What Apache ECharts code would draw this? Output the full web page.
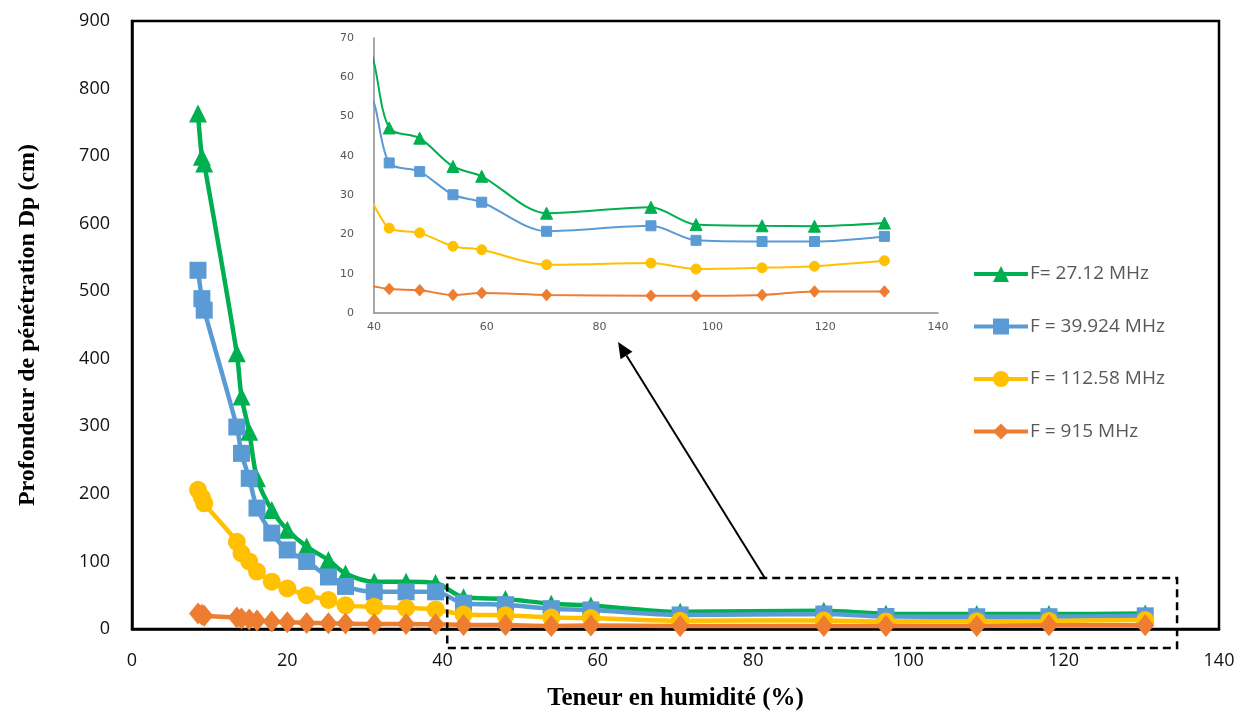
<!DOCTYPE html>
<html><head><meta charset="utf-8">
<script src="https://cdn.jsdelivr.net/npm/echarts@6/dist/echarts.min.js"></script>
<style>html,body{margin:0;padding:0;background:#fff}#c{width:1243px;height:716px}</style>
</head><body><div id="c"></div>
<script>
// Moisture content (%) of each sample
const moisture = [8.5, 9.0, 9.3, 13.5, 14.1, 15.1, 16.1, 18.0, 20.0, 22.5, 25.3, 27.5, 31.2, 35.3, 39.1, 42.7, 48.1, 54.0, 59.1, 70.6, 89.1, 97.1, 108.8, 118.1, 130.5];
// Penetration depth Dp (cm) per frequency
const dp27 = [763, 699, 689, 408, 344, 292, 223, 176, 147, 122, 102, 82, 70, 70, 68, 47.1, 44.5, 37.3, 34.8, 25.4, 26.9, 22.5, 22.2, 22.1, 22.9];
const dp39 = [531, 489, 472, 299, 260, 223, 179, 142, 117, 100, 77, 63, 55, 55, 55, 38.2, 36.0, 30.1, 28.2, 20.8, 22.2, 18.5, 18.2, 18.2, 19.5];
const dp112 = [206, 195, 186, 129, 112, 100, 85, 70, 60, 50, 43, 35, 33, 31, 29, 21.6, 20.4, 17.0, 16.1, 12.3, 12.7, 11.2, 11.5, 11.9, 13.3];
const dp915 = [23, 21, 19.5, 17, 15.5, 14, 12.5, 11, 10, 9, 8.5, 8, 7.5, 7.5, 7, 6.1, 5.8, 4.6, 5.1, 4.6, 4.4, 4.4, 4.6, 5.5, 5.5];
const seriesNames = ['F= 27.12 MHz', 'F = 39.924 MHz', 'F = 112.58 MHz', 'F = 915 MHz'];
const seriesValues = [dp27, dp39, dp112, dp915];
const colors = ['#00B050', '#5B9BD5', '#FFC000', '#ED7D31'];
const symbols = ['triangle', 'rect', 'circle', 'diamond'];
// Zoom box (main axes units) and arrow (from -> to)
const zoomBox = [[40.6, 75.5], [134.6, -28]];
const arrowPts = [[81.5, 75.5], [62.6, 425]];

const chart = echarts.init(document.getElementById('c'), null, {renderer: 'canvas'});
const mainSize = [18, 17, 18, [18, 22]];
const insetSize = [12, 10, 10, [10, 11]];
const series = [];
seriesValues.forEach((vals, i) => {
  const data = moisture.map((x, k) => [x, vals[k]]);
  series.push({
    name: seriesNames[i], type: 'line', xAxisIndex: 0, yAxisIndex: 0, data,
    smooth: 0.3, symbol: symbols[i], symbolSize: mainSize[i], color: colors[i],
    lineStyle: {width: 4.5, color: colors[i]}, itemStyle: {color: colors[i]}, z: 2 + i, clip: true
  });
});
seriesValues.forEach((vals, i) => {
  const data = moisture.map((x, k) => [x, vals[k]]);
  series.push({
    name: seriesNames[i], type: 'line', xAxisIndex: 1, yAxisIndex: 1, data,
    smooth: 0.3, symbol: symbols[i], symbolSize: insetSize[i], color: colors[i],
    lineStyle: {width: 2, color: colors[i]}, itemStyle: {color: colors[i], borderColor: colors[i]}, z: 10 + i, clip: true
  });
});

const axisLabelMain = {color: '#111', fontFamily: 'Open Sans', fontSize: 18};
const axisLabelInset = {color: '#555', fontFamily: 'DejaVu Sans', fontSize: 11};
chart.setOption({
  animation: false,
  backgroundColor: '#fff',
  grid: [
    {left: 132, right: 24, top: 21, bottom: 87, show: true, borderColor: '#000', borderWidth: 2.5},
    {left: 374, top: 38, width: 564, height: 275}
  ],
  xAxis: [
    {type: 'value', gridIndex: 0, min: 0, max: 140, interval: 20,
     axisLine: {show: true, lineStyle: {color: '#000', width: 2.5}}, axisTick: {show: false}, splitLine: {show: false},
     axisLabel: Object.assign({margin: 23}, axisLabelMain),
     name: 'Teneur en humidité (%)', nameLocation: 'middle', nameGap: 57,
     nameTextStyle: {fontFamily: 'Liberation Serif', fontWeight: 'bold', fontSize: 25, color: '#000'}},
    {type: 'value', gridIndex: 1, min: 40, max: 140, interval: 20,
     axisLine: {show: true, lineStyle: {color: '#8c8c8c', width: 1.5}}, axisTick: {show: false}, splitLine: {show: false},
     axisLabel: Object.assign({margin: 9}, axisLabelInset)}
  ],
  yAxis: [
    {type: 'value', gridIndex: 0, min: 0, max: 900, interval: 100,
     axisLine: {show: true, lineStyle: {color: '#000', width: 2.5}}, axisTick: {show: false}, splitLine: {show: false},
     axisLabel: Object.assign({margin: 22}, axisLabelMain),
     name: 'Profondeur de pénétration Dp (cm)', nameLocation: 'middle', nameGap: 92,
     nameTextStyle: {fontFamily: 'Liberation Serif', fontWeight: 'bold', fontSize: 24, color: '#000'}},
    {type: 'value', gridIndex: 1, min: 0, max: 70, interval: 10,
     axisLine: {show: true, lineStyle: {color: '#8c8c8c', width: 1.5}}, axisTick: {show: false}, splitLine: {show: false},
     axisLabel: Object.assign({margin: 20}, axisLabelInset)}
  ],
  legend: {
    data: seriesNames, orient: 'vertical', left: 972, top: 264, padding: 0, itemWidth: 54, itemHeight: 20, itemGap: 32.5,
    selectedMode: false, lineStyle: {width: 4},
    textStyle: {fontFamily: 'Open Sans', fontSize: 19, color: '#595959', lineHeight: 20, padding: [0, 0, 0, -3]}
  },
  series
});

// Annotation: dashed zoom box and arrow, positioned from axis values
const p1 = chart.convertToPixel({xAxisIndex: 0, yAxisIndex: 0}, zoomBox[0]);
const p2 = chart.convertToPixel({xAxisIndex: 0, yAxisIndex: 0}, zoomBox[1]);
const a0 = chart.convertToPixel({xAxisIndex: 0, yAxisIndex: 0}, arrowPts[0]);
const a1 = chart.convertToPixel({xAxisIndex: 0, yAxisIndex: 0}, arrowPts[1]);
const ang = Math.atan2(a1[1] - a0[1], a1[0] - a0[0]);
const hl = 16, hw = 7;
const bx = a1[0] - hl * Math.cos(ang), by = a1[1] - hl * Math.sin(ang);
const nx = -Math.sin(ang), ny = Math.cos(ang);
chart.setOption({
  graphic: [
    {type: 'rect', shape: {x: Math.min(p1[0], p2[0]), y: Math.min(p1[1], p2[1]), width: Math.abs(p2[0] - p1[0]), height: Math.abs(p2[1] - p1[1])},
     style: {fill: 'none', stroke: '#000', lineWidth: 2.5, lineDash: [8, 5]}, z: 50},
    {type: 'line', shape: {x1: a0[0], y1: a0[1], x2: bx, y2: by}, style: {stroke: '#000', lineWidth: 2}, z: 50},
    {type: 'polygon', shape: {points: [[a1[0], a1[1]], [bx + nx * hw, by + ny * hw], [bx - nx * hw, by - ny * hw]]},
     style: {fill: '#000'}, z: 50}
  ]
});
</script>
</body></html>
